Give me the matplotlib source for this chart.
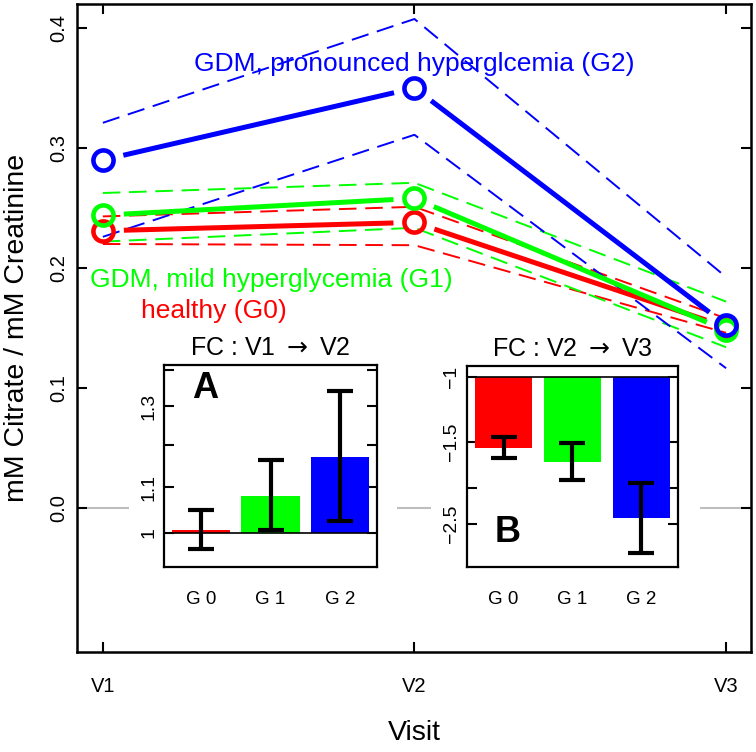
import numpy as np
import matplotlib
matplotlib.use('Agg')
import matplotlib.pyplot as plt
from matplotlib.patches import Rectangle
from matplotlib.ticker import NullLocator, NullFormatter

plt.rcParams['font.family'] = ['Liberation Sans', 'DejaVu Sans']

# main panel: citrate / creatinine per visit, mean with confidence band
visits = ['V1', 'V2', 'V3']
g0_mean = [0.231, 0.238, 0.151]
g0_upper = [0.243, 0.251, 0.158]
g0_lower = [0.220, 0.219, 0.146]
g1_mean = [0.244, 0.258, 0.148]
g1_upper = [0.2625, 0.271, 0.172]
g1_lower = [0.222, 0.2335, 0.134]
g2_mean = [0.290, 0.350, 0.1525]
g2_upper = [0.321, 0.4075, 0.1925]
g2_lower = [0.226, 0.311, 0.1165]

# fold changes for the insets
groups = ['G 0', 'G 1', 'G 2']
fc_v1v2 = [1.006, 1.080, 1.171]
fc_v1v2_lo = [0.967, 1.006, 1.025]
fc_v1v2_hi = [1.049, 1.163, 1.342]
fc_v2v3 = [-1.56, -1.70, -2.41]
fc_v2v3_lo = [-1.46, -1.51, -1.94]
fc_v2v3_hi = [-1.66, -1.90, -3.00]

red = '#FF0000'
green = '#00FF00'
blue = '#0000FF'
cols = [red, green, blue]

W, H = 756, 752
fig = plt.figure(figsize=(W / 100, H / 100), dpi=100)
ax = fig.add_axes([77 / W, 1 - 652 / H, 674 / W, 648 / H])
x = np.arange(1, len(visits) + 1)
ax.set_xlim(0.917, 3.08)
ax.set_ylim(-0.12, 0.42)

ax.axhline(0, color='#BEBEBE', lw=1.5, zorder=0.5)

dash = (0, (9, 4.5))
series = [(g0_mean, g0_lower, g0_upper, red),
          (g1_mean, g1_lower, g1_upper, green),
          (g2_mean, g2_lower, g2_upper, blue)]


def gap_lines(xs, ys, color, gap=21):
    # R type="b": segments stop short of the points
    pts = ax.transData.transform(np.column_stack([xs, ys]))
    inv = ax.transData.inverted()
    for p, q in zip(pts[:-1], pts[1:]):
        d = q - p
        u = d / np.hypot(*d)
        seg = inv.transform([p + u * gap, q - u * gap])
        ax.plot(seg[:, 0], seg[:, 1], color=color, lw=3.6, solid_capstyle='butt', zorder=3)


for m, lo, hi, c in series:
    ax.plot(x, lo, color=c, lw=1.4, linestyle=dash, zorder=2)
    ax.plot(x, hi, color=c, lw=1.4, linestyle=dash, zorder=2)
for m, lo, hi, c in series:
    gap_lines(x, m, c)
    ax.plot(x, m, 'o', ms=14.5, mfc='none', mec=c, mew=3.3, zorder=4)

ax.text(2.0, 0.364, 'GDM, pronounced hyperglcemia (G2)', color=blue, fontsize=19,
        ha='center', va='baseline')
ax.text(1.54, 0.184, 'GDM, mild hyperglycemia (G1)', color=green, fontsize=19,
        ha='center', va='baseline')
ax.text(1.356, 0.158, 'healthy (G0)', color=red, fontsize=19,
        ha='center', va='baseline')

ax.set_xticks(x)
ax.set_xticklabels(visits, fontsize=14.5)
ax.set_yticks([0.0, 0.1, 0.2, 0.3, 0.4])
ax.set_yticklabels(['0.0', '0.1', '0.2', '0.3', '0.4'], rotation=90, va='center', fontsize=14.5)
ax.tick_params(direction='in', length=7, width=1.5, top=True, right=True)
ax.tick_params(axis='x', pad=18)
ax.tick_params(axis='y', pad=6)
ax.set_xlabel('Visit', fontsize=20.5, labelpad=17)
ax.set_ylabel('mM Citrate / mM Creatinine', fontsize=20.5, labelpad=14)
for s in ax.spines.values():
    s.set_linewidth(1.8)

# white ground behind the insets (hides the zero line)
for left, right in [(129, 397), (431, 700)]:
    fig.patches.append(Rectangle((left / W, 1 - 625 / H), (right - left) / W, (625 - 366) / H,
                                 transform=fig.transFigure, facecolor='white',
                                 edgecolor='none', zorder=1))

bx = [0.7, 1.9, 3.1]


def inset(rect, vals, lo, hi, title, letter, letter_y, ticks, ticklabels, ylim):
    a = fig.add_axes(rect)
    a.set_zorder(2)
    a.set_yscale('log')
    vals = np.array(vals)
    a.bar(bx, vals - 1, bottom=1, width=1, color=cols, zorder=2)
    a.errorbar(bx, vals, yerr=[vals - np.array(lo), np.array(hi) - vals], fmt='none',
               ecolor='black', elinewidth=3, capsize=9.5, capthick=3, zorder=3)
    a.axhline(1, color='black', lw=1.2, zorder=4)
    a.set_xlim(0.064, 3.736)
    a.set_ylim(*ylim)
    a.set_yticks(ticks)
    a.set_yticklabels(ticklabels, rotation=90, va='center', fontsize=14)
    a.yaxis.set_minor_locator(NullLocator())
    a.yaxis.set_minor_formatter(NullFormatter())
    a.set_xticks(bx)
    a.set_xticklabels(groups, fontsize=13.5)
    a.tick_params(axis='y', direction='in', length=7, width=1.5, right=True, pad=5)
    a.tick_params(axis='x', length=0, pad=17)
    for s in a.spines.values():
        s.set_linewidth(1.6)
    a.set_title(title, fontsize=18, pad=7)
    a.text(0.77, letter_y, letter, fontsize=26, fontweight='bold', ha='center', va='center')
    return a


inset([164 / W, 1 - 567 / H, 213 / W, 202 / H], fc_v1v2, fc_v1v2_lo, fc_v1v2_hi,
      r'FC : V1 $\rightarrow$ V2', 'A', 1.35, [1, 1.1, 1.2, 1.3, 1.4],
      ['1', '1.1', '', '1.3', ''], (0.932, 1.416))
inset([467 / W, 1 - 567 / H, 211 / W, 201 / H], [-v for v in fc_v2v3],
      [-v for v in fc_v2v3_lo], [-v for v in fc_v2v3_hi],
      r'FC : V2 $\rightarrow$ V3', 'B', 2.65, [1, 1.5, 2, 2.5],
      ['−1', '−1.5', '', '−2.5'], (3.28, 0.934))

fig.savefig('out.png', dpi=100)
